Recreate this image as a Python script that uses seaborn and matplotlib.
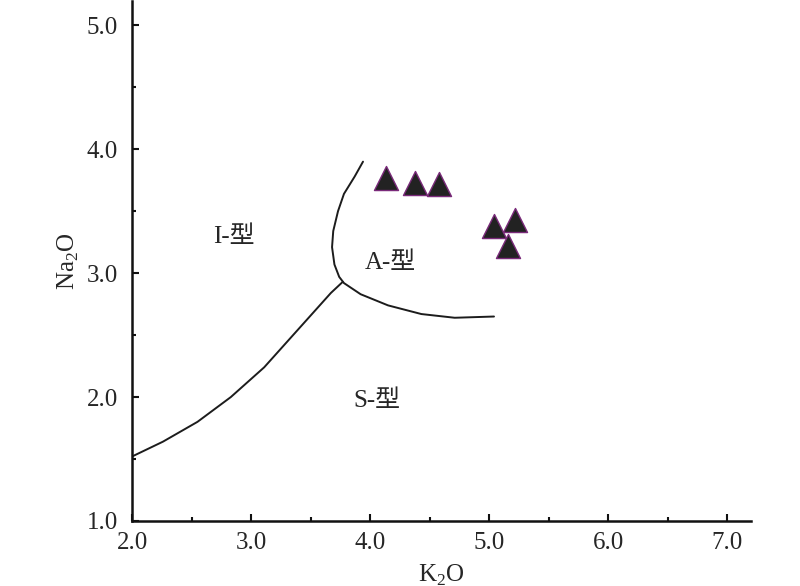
import numpy as np
import pandas as pd
import matplotlib
matplotlib.use("Agg")
import matplotlib.pyplot as plt
from matplotlib.ticker import MultipleLocator, FormatStrFormatter
import seaborn as sns

# sample points (triangles)
k2o = [4.13, 4.38, 4.58, 5.04, 5.22, 5.16]
na2o = [3.77, 3.73, 3.72, 3.38, 3.43, 3.22]

# I / S boundary
is_x = [2.0, 2.26, 2.55, 2.83, 3.11, 3.39, 3.67, 3.77]
is_y = [1.52, 1.64, 1.80, 2.00, 2.24, 2.54, 2.84, 2.93]

# A-type boundary (top -> junction -> right end)
a_x = [3.94, 3.87, 3.78, 3.73, 3.69, 3.68, 3.70, 3.74, 3.78,
       3.92, 4.15, 4.43, 4.71, 5.04]
a_y = [3.90, 3.78, 3.64, 3.50, 3.34, 3.21, 3.07, 2.97, 2.92,
       2.83, 2.74, 2.67, 2.64, 2.65]

region_labels = ["I-型", "A-型", "S-型"]
label_x = [2.86, 4.17, 4.06]
label_y = [3.29, 3.08, 1.97]

sns.set_style("ticks")
plt.rcParams['font.family'] = ['Liberation Serif', 'Noto Sans CJK SC']
plt.rcParams['mathtext.fontset'] = 'custom'
plt.rcParams['mathtext.rm'] = 'Liberation Serif'
plt.rcParams['lines.solid_joinstyle'] = 'round'
plt.rcParams['lines.solid_capstyle'] = 'round'

fig = plt.figure(figsize=(8, 5.86), dpi=100)
ax = fig.add_axes([0.165, 0.111, 0.774, 0.888])

line_col = "#1c1c1c"
sns.lineplot(x=is_x, y=is_y, sort=False, estimator=None, color=line_col, lw=1.4, ax=ax)
sns.lineplot(x=a_x, y=a_y, sort=False, estimator=None, color=line_col, lw=1.4, ax=ax)

df = pd.DataFrame({"K2O": k2o, "Na2O": na2o})
sns.scatterplot(data=df, x="K2O", y="Na2O", marker="^", s=300, color="#222222",
                edgecolor="#7a2a7a", linewidth=1.0, ax=ax, zorder=3)

for t, x, y in zip(region_labels, label_x, label_y):
    ax.text(x, y, t, fontsize=18, ha="center", va="center")

ax.set_xlim(2.0, 7.2)
ax.set_ylim(1.0, 5.2)
ax.xaxis.set_major_locator(MultipleLocator(1.0))
ax.xaxis.set_minor_locator(MultipleLocator(0.5))
ax.yaxis.set_major_locator(MultipleLocator(1.0))
ax.yaxis.set_minor_locator(MultipleLocator(0.5))
ax.xaxis.set_major_formatter(FormatStrFormatter('%.1f'))
ax.yaxis.set_major_formatter(FormatStrFormatter('%.1f'))
ax.tick_params(which='major', direction='in', length=5, width=1.5, labelsize=18, color='#111111')
ax.tick_params(which='minor', direction='in', length=3, width=1.5, color='#111111')
ax.tick_params(axis='x', pad=8)
ax.tick_params(axis='y', pad=10)
for s in ['left', 'bottom']:
    ax.spines[s].set_linewidth(1.8)
    ax.spines[s].set_color('#111111')
sns.despine(ax=ax)

ax.set_xlabel("K$_2$O", fontsize=18, labelpad=6)
ax.set_ylabel("Na$_2$O", fontsize=18, labelpad=4)

fig.savefig("out.png", dpi=100)
